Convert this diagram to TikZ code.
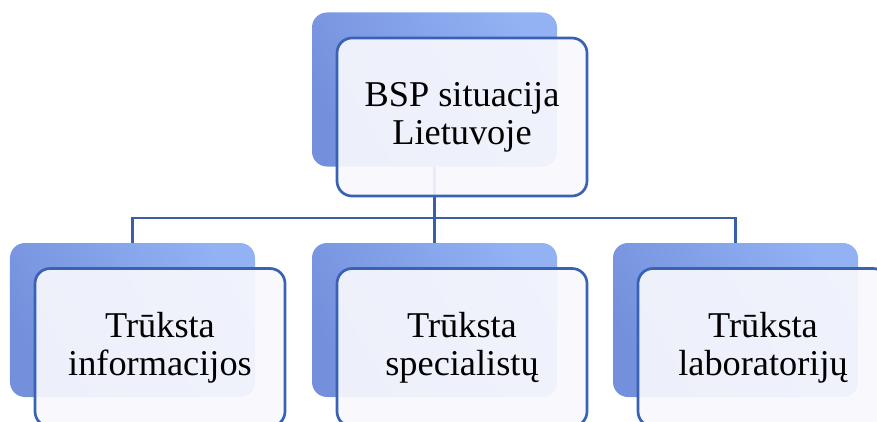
\documentclass[tikz,border=0pt]{standalone}
\usepackage{fontspec}
\setmainfont{Liberation Serif}
\definecolor{bklight}{RGB}{146,178,244}
\definecolor{bkdark}{RGB}{116,144,220}
\definecolor{bxfill}{RGB}{248,248,253}
\definecolor{bxline}{RGB}{58,98,180}
\definecolor{lnblue}{RGB}{60,94,168}

\begin{document}
\begin{tikzpicture}[x=0.03cm, y=-0.03cm,
  backbox/.style = {shape=rectangle, rounded corners=0.45cm,
    minimum width=7.35cm, minimum height=4.62cm,
    top color=bklight, bottom color=bkdark, shading angle=-60},
  frontbox/.style = {shape=rectangle, rounded corners=0.45cm,
    draw=bxline, line width=2.3pt, fill=bxfill, fill opacity=0.92,
    text opacity=1, align=center,
    minimum width=7.5cm, minimum height=4.74cm,
    font=\fontsize{31}{32.4}\selectfont,
    xshift=0.825cm, yshift=-0.825cm},
  conn/.style = {draw=lnblue, line width=2.3pt}]
  \useasboundingbox (0,0) rectangle (877,421);
  \clip (0,0) rectangle (877,421);
  \node[backbox] (top) at (434.5,89.5) {};
  \node[backbox] (info) at (132.5,320) {};
  \node[backbox] (spec) at (434.5,320) {};
  \node[backbox] (lab) at (735.5,320) {};
  \coordinate (fork) at (434.5,218);
  \draw[conn] (top.south) -- (fork);
  \draw[conn] (fork) -| (info.north);
  \draw[conn] (fork) -- (spec.north);
  \draw[conn] (fork) -| (lab.north);
  \node[frontbox] (topf) at (top) {BSP situacija\\Lietuvoje};
  \node[frontbox] (infof) at (info) {Trūksta\\informacijos};
  \node[frontbox] (specf) at (spec) {Trūksta\\specialistų};
  \node[frontbox] (labf) at (lab) {Trūksta\\laboratorijų};
\end{tikzpicture}
\end{document}
